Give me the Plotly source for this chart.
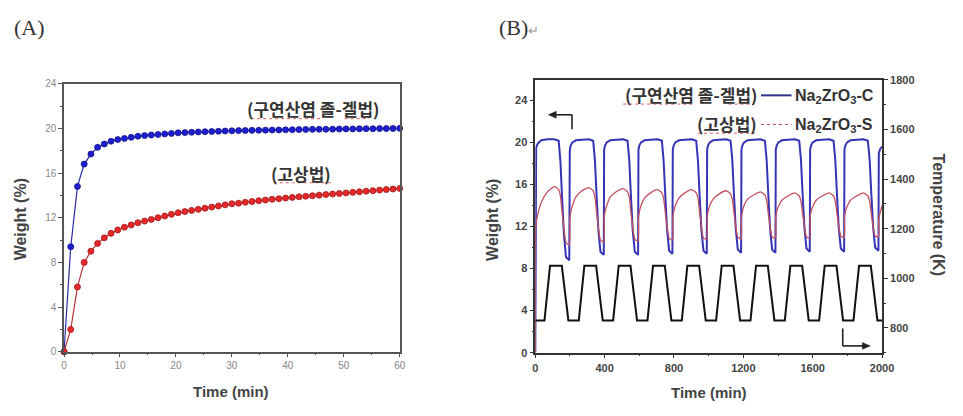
import plotly.graph_objects as go

W, H = 963, 416

# ---------------- Panel A data ----------------
a_time = [0, 1.2, 2.4, 3.6, 4.8, 6.0, 7.2, 8.4, 9.6, 10.8, 12.0, 13.2, 14.4, 15.6, 16.8,
          18.0, 19.2, 20.4, 21.6, 22.8, 24.0, 25.2, 26.4, 27.6, 28.8, 30.0, 31.2, 32.4,
          33.6, 34.8, 36.0, 37.2, 38.4, 39.6, 40.8, 42.0, 43.2, 44.4, 45.6, 46.8, 48.0,
          49.2, 50.4, 51.6, 52.8, 54.0, 55.2, 56.4, 57.6, 58.8, 60.0]
a_solgel = [0, 9.4, 14.8, 16.8, 17.7, 18.3, 18.6, 18.85, 19.0, 19.1, 19.2, 19.3, 19.35,
            19.4, 19.45, 19.5, 19.55, 19.6, 19.62, 19.65, 19.68, 19.7, 19.72, 19.74, 19.76,
            19.78, 19.8, 19.81, 19.82, 19.83, 19.84, 19.85, 19.86, 19.87, 19.88, 19.89,
            19.9, 19.91, 19.92, 19.92, 19.93, 19.94, 19.95, 19.95, 19.96, 19.97, 19.97,
            19.98, 19.98, 19.99, 20.0]
a_solid = [0, 2.0, 5.8, 8.0, 9.0, 9.7, 10.2, 10.6, 10.9, 11.15, 11.35, 11.55, 11.7, 11.85,
           12.0, 12.15, 12.3, 12.45, 12.55, 12.65, 12.75, 12.85, 12.95, 13.05, 13.15, 13.25,
           13.3, 13.38, 13.45, 13.52, 13.58, 13.65, 13.7, 13.76, 13.82, 13.87, 13.92, 13.97,
           14.02, 14.07, 14.12, 14.17, 14.22, 14.27, 14.32, 14.37, 14.42, 14.47, 14.52,
           14.57, 14.62]

# ---------------- Panel B data ----------------
b_time = [
    0, 1, 5, 15, 35, 70, 110, 135, 145, 155, 165, 177, 196,
    199, 204, 214, 234, 269, 309, 334, 344, 354, 364, 376, 395,
    397, 402, 412, 432, 467, 507, 532, 542, 552, 562, 574, 593,
    595, 600, 610, 630, 665, 705, 730, 740, 750, 760, 772, 791,
    793, 798, 808, 828, 863, 903, 928, 938, 948, 958, 970, 989,
    991, 996, 1006, 1026, 1061, 1101, 1126, 1136, 1146, 1156, 1168, 1187,
    1189, 1194, 1204, 1224, 1259, 1299, 1324, 1334, 1344, 1354, 1366, 1385,
    1387, 1392, 1402, 1422, 1457, 1497, 1522, 1532, 1542, 1552, 1564, 1583,
    1585, 1590, 1600, 1620, 1655, 1695, 1720, 1730, 1740, 1750, 1762, 1781,
    1783, 1788, 1798, 1818, 1853, 1893, 1918, 1928, 1938, 1948, 1960, 1979,
    1981, 1990, 2000]
b_C = [
    0, 18.0, 19.5, 19.9, 20.2, 20.3, 20.3, 20.15, 18.2, 14.6, 11.3, 9.1, 8.8,
    19.2, 19.7, 20.0, 20.2, 20.25, 20.3, 20.15, 18.3, 14.8, 11.6, 9.6, 9.3,
    19.3, 19.7, 20.0, 20.2, 20.25, 20.3, 20.15, 18.3, 14.8, 11.6, 9.6, 9.3,
    19.3, 19.7, 20.0, 20.2, 20.25, 20.3, 20.15, 18.3, 14.9, 11.7, 9.7, 9.4,
    19.3, 19.7, 20.0, 20.2, 20.25, 20.3, 20.15, 18.3, 14.9, 11.7, 9.7, 9.4,
    19.3, 19.7, 20.0, 20.2, 20.25, 20.3, 20.15, 18.4, 15.0, 11.8, 9.8, 9.5,
    19.3, 19.7, 20.0, 20.2, 20.25, 20.3, 20.15, 18.4, 15.0, 11.8, 9.8, 9.5,
    19.3, 19.7, 20.0, 20.2, 20.25, 20.3, 20.15, 18.4, 15.0, 11.9, 9.9, 9.6,
    19.3, 19.7, 20.0, 20.2, 20.25, 20.3, 20.15, 18.4, 15.0, 11.9, 9.9, 9.6,
    19.3, 19.7, 20.0, 20.2, 20.25, 20.3, 20.15, 18.4, 15.1, 12.0, 10.0, 9.7,
    19.0, 19.4, 19.6]
b_S = [
    0, 11.5, 12.3, 13.2, 14.3, 15.3, 15.8, 15.5, 14.9, 13.3, 11.8, 10.5, 10.2,
    12.7, 13.3, 14.0, 14.8, 15.4, 15.7, 15.4, 14.8, 13.3, 11.9, 10.7, 10.5,
    12.8, 13.4, 14.0, 14.8, 15.3, 15.6, 15.3, 14.8, 13.3, 11.9, 10.8, 10.6,
    12.8, 13.4, 14.0, 14.7, 15.2, 15.5, 15.2, 14.7, 13.3, 12.0, 10.9, 10.7,
    12.9, 13.4, 14.0, 14.7, 15.2, 15.5, 15.2, 14.7, 13.3, 12.0, 10.9, 10.8,
    12.9, 13.4, 14.0, 14.6, 15.1, 15.4, 15.1, 14.6, 13.3, 12.0, 11.0, 10.8,
    12.9, 13.4, 14.0, 14.6, 15.0, 15.3, 15.0, 14.5, 13.2, 12.0, 11.0, 10.9,
    12.9, 13.4, 13.9, 14.5, 14.9, 15.2, 14.9, 14.4, 13.2, 12.0, 11.0, 10.9,
    12.9, 13.4, 13.9, 14.5, 14.9, 15.2, 14.9, 14.4, 13.2, 12.0, 11.1, 10.9,
    12.9, 13.4, 13.9, 14.5, 14.9, 15.2, 14.9, 14.4, 13.2, 12.0, 11.1, 11.0,
    12.7, 13.4, 14.0]
temp_time = [0, 53, 85, 153, 191, 251, 283, 351, 389, 449, 481, 549, 587, 647, 679, 747,
             785, 845, 877, 945, 983, 1043, 1075, 1143, 1181, 1241, 1273, 1341, 1379, 1439,
             1471, 1539, 1577, 1637, 1669, 1737, 1775, 1835, 1867, 1935, 1973, 2000]
temp_K = [830, 830, 1050, 1050, 830, 830, 1050, 1050, 830, 830, 1050, 1050, 830, 830, 1050,
          1050, 830, 830, 1050, 1050, 830, 830, 1050, 1050, 830, 830, 1050, 1050, 830, 830,
          1050, 1050, 830, 830, 1050, 1050, 830, 830, 1050, 1050, 830, 830]

a_xticks = [0, 10, 20, 30, 40, 50, 60]
a_yticks = [0, 4, 8, 12, 16, 20, 24]
b_xticks = [0, 400, 800, 1200, 1600, 2000]
b_yticks = [0, 4, 8, 12, 16, 20, 24]
b_y2ticks = [800, 1000, 1200, 1400, 1600, 1800]


def px(x):
    return x / W


def py(y):
    return 1 - y / H


fig = go.Figure()

# Panel A
fig.add_trace(go.Scatter(x=a_time, y=a_solgel, mode="lines+markers", xaxis="x", yaxis="y",
                         line=dict(color="#2b2ba0", width=1.2),
                         marker=dict(size=6, color="#1e1ed0", line=dict(color="#14148a", width=0.8)),
                         cliponaxis=False))
fig.add_trace(go.Scatter(x=a_time, y=a_solid, mode="lines+markers", xaxis="x", yaxis="y",
                         line=dict(color="#b83038", width=1.2),
                         marker=dict(size=6, color="#e62828", line=dict(color="#a01818", width=0.8)),
                         cliponaxis=False))

# Panel B
fig.add_trace(go.Scatter(x=temp_time, y=temp_K, mode="lines", xaxis="x2", yaxis="y3",
                         line=dict(color="#111111", width=2)))
fig.add_trace(go.Scatter(x=b_time, y=b_C, mode="lines", xaxis="x2", yaxis="y2",
                         line=dict(color="#3434b4", width=2)))
fig.add_trace(go.Scatter(x=b_time, y=b_S, mode="lines", xaxis="x2", yaxis="y2",
                         line=dict(color="#c4505e", width=1.3, shape="spline", smoothing=0.5)))

axA = dict(showline=True, linecolor="#555555", linewidth=1.5, mirror=True,
           ticks="outside", ticklen=4, tickwidth=1, tickcolor="#555555",
           showgrid=False, zeroline=False,
           tickfont=dict(family="Liberation Sans", size=10, color="#888888"))
axB = dict(showline=True, linecolor="#333333", linewidth=1.5,
           ticks="outside", ticklen=4, tickwidth=1, tickcolor="#333333",
           showgrid=False, zeroline=False,
           tickfont=dict(family="Liberation Sans", size=11, color="#444444", weight="bold"))

fig.update_layout(
    width=W, height=H, margin=dict(l=0, r=0, t=0, b=0),
    paper_bgcolor="white", plot_bgcolor="white", showlegend=False,
    xaxis=dict(axA, domain=[px(62), px(403)], anchor="y", range=[0, 60],
               tickvals=a_xticks, minor=dict(ticks="outside", ticklen=2, dtick=5, tick0=0, tickcolor="#555555")),
    yaxis=dict(axA, domain=[py(356), py(80)], anchor="x", range=[0, 24],
               tickvals=a_yticks, minor=dict(ticks="outside", ticklen=2, dtick=2, tick0=0, tickcolor="#555555")),
    xaxis2=dict(axB, mirror=True, domain=[px(540.7), px(893)], anchor="y2", range=[0, 2000],
                tickvals=b_xticks, minor=dict(ticks="outside", ticklen=2, dtick=200, tick0=0, tickcolor="#333333")),
    yaxis2=dict(axB, domain=[py(357), py(76)], anchor="x2", range=[0, 25.95],
                tickvals=b_yticks, minor=dict(ticks="outside", ticklen=2, dtick=2, tick0=0, tickcolor="#333333")),
    yaxis3=dict(axB, overlaying="y2", side="right", anchor="x2", range=[700, 1800],
                tickvals=b_y2ticks, minor=dict(ticks="outside", ticklen=2, dtick=100, tick0=0, tickcolor="#333333")),
)

ann = []
title_font = dict(family="Liberation Sans", size=15, color="#444444")
title_font_v = dict(family="Liberation Sans", size=16, color="#444444")
ann.append(dict(text="<b>Weight (%)</b>", x=px(18), y=py(220), textangle=-90, font=title_font_v))
ann.append(dict(text="<b>Time (min)</b>", x=px(232), y=py(397), font=title_font))
ann.append(dict(text="<b>Weight (%)</b>", x=px(497), y=py(220), textangle=-90, font=title_font_v))
ann.append(dict(text="<b>Temperature (K)</b>", x=px(950), y=py(215), textangle=90, font=title_font_v))
ann.append(dict(text="<b>Time (min)</b>", x=px(717), y=py(398), font=title_font))

ko = dict(family="Noto Sans CJK KR", size=17, color="#333333")
ann.append(dict(text="<b>(구연산염 졸-겔법)</b>", x=px(315), y=py(106), font=ko))
ann.append(dict(text="<b>(고상법)</b>", x=px(303), y=py(172), font=ko))

ann.append(dict(text="<b>(구연산염 졸-겔법)</b>", x=px(768), y=py(91), xanchor="right", font=ko))
ann.append(dict(text="<b>(고상법)</b>", x=px(768), y=py(121), xanchor="right", font=ko))
lf = dict(family="Liberation Sans", size=16, color="#333333")
ann.append(dict(text="<b>Na<sub>2</sub>ZrO<sub>3</sub>-C</b>", x=px(802), y=py(93), xanchor="left", font=lf))
ann.append(dict(text="<b>Na<sub>2</sub>ZrO<sub>3</sub>-S</b>", x=px(802), y=py(123), xanchor="left", font=lf))

pf = dict(family="Liberation Serif", size=22, color="#333333")
ann.append(dict(text="(A)", x=px(27), y=py(22), font=pf))
ann.append(dict(text="(B)<span style='font-size:13px;color:#999999'>↵</span>", x=px(502), y=py(22),
                xanchor="left", font=pf))

for a in ann:
    a.setdefault("xref", "paper")
    a.setdefault("yref", "paper")
    a.setdefault("xanchor", "center")
    a.setdefault("yanchor", "middle")
    a.setdefault("showarrow", False)
fig.update_layout(annotations=ann)


def tri(points):
    p = " L ".join(f"{px(x):.5f},{py(y):.5f}" for x, y in points)
    return "M " + p + " Z"


def uline(x0, x1, y):
    return dict(type="line", x0=px(x0), x1=px(x1), y0=py(y), y1=py(y),
                line=dict(color="#e06060", width=1, dash="dot"))


shapes = [
    # left-pointing arrow (weight axis)
    dict(type="line", x0=px(578), x1=px(560), y0=py(112), y1=py(112), line=dict(color="#222222", width=1.6)),
    dict(type="line", x0=px(578), x1=px(578), y0=py(112), y1=py(127), line=dict(color="#222222", width=1.6)),
    dict(type="path", path=tri([(554, 112), (562, 108.5), (562, 115.5)]), fillcolor="#222222",
         line=dict(color="#222222", width=0.5)),
    # right-pointing arrow (temperature axis)
    dict(type="line", x0=px(853), x1=px(853), y0=py(332), y1=py(350), line=dict(color="#222222", width=1.6)),
    dict(type="line", x0=px(853), x1=px(875), y0=py(350), y1=py(350), line=dict(color="#222222", width=1.6)),
    dict(type="path", path=tri([(881, 350), (873, 346.5), (873, 353.5)]), fillcolor="#222222",
         line=dict(color="#222222", width=0.5)),
    # legend samples
    dict(type="line", x0=px(770), x1=px(801), y0=py(92), y1=py(92), line=dict(color="#33338a", width=2)),
    dict(type="line", x0=px(770), x1=px(801), y0=py(122), y1=py(122), line=dict(color="#c4505e", width=1.2, dash="dot")),
    # spell-check style underlines seen under the Korean labels
    uline(252, 322, 116), uline(347, 372, 116), uline(275, 333, 182),
    uline(630, 703, 101), uline(737, 763, 101), uline(706, 765, 131),
]
for s in shapes:
    s["xref"] = "paper"
    s["yref"] = "paper"
fig.update_layout(shapes=shapes)

fig.write_html("out.html")
